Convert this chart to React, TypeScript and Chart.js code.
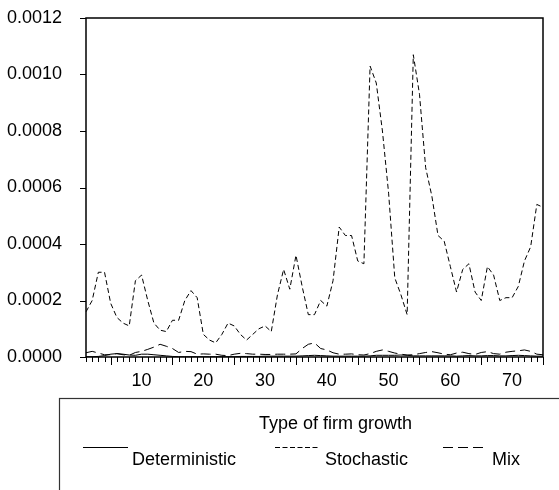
import React, { useEffect, useRef } from 'react';
import { Chart, registerables } from 'chart.js';

Chart.register(...registerables);

const periods = [
  1, 2, 3, 4, 5, 6, 7, 8, 9, 10, 11, 12, 13, 14, 15, 16, 17, 18, 19, 20,
  21, 22, 23, 24, 25, 26, 27, 28, 29, 30, 31, 32, 33, 34, 35, 36, 37, 38, 39, 40,
  41, 42, 43, 44, 45, 46, 47, 48, 49, 50, 51, 52, 53, 54, 55, 56, 57, 58, 59, 60,
  61, 62, 63, 64, 65, 66, 67, 68, 69, 70, 71, 72, 73, 74, 75,
];

const deterministic = [
  0.000001, 0.000001, 0.000002, 0.000005, 0.00001, 0.000012, 0.00001, 0.000007, 0.000006, 0.00001,
  0.00001, 0.000008, 0.000006, 0.000004, 0.000002, 0.000001, 0.000001, 0.000001, 0.000001, 0.000001,
  0.000001, 0.000001, 0.000001, 0.000001, 0.000001, 0.000002, 0.000002, 0.000002, 0.000002, 0.000003,
  0.000003, 0.000003, 0.000003, 0.000003, 0.000003, 0.000004, 0.000005, 0.000006, 0.000005, 0.000004,
  0.000003, 0.000003, 0.000003, 0.000003, 0.000003, 0.000003, 0.000004, 0.000006, 0.000006, 0.000006,
  0.000006, 0.000007, 0.000006, 0.000004, 0.000004, 0.000004, 0.000004, 0.000004, 0.000004, 0.000004,
  0.000003, 0.000004, 0.000005, 0.000004, 0.000004, 0.000005, 0.000005, 0.000004, 0.000004, 0.000005,
  0.000006, 0.000005, 0.000004, 0.000003, 0.000003,
];

const stochastic = [
  0.00016, 0.0002, 0.0003, 0.0003, 0.00019, 0.00014, 0.00012, 0.00011, 0.00027, 0.00029,
  0.0002, 0.00012, 0.000095, 0.00009, 0.00013, 0.00013, 0.0002, 0.000235, 0.00021, 0.00008,
  0.00006, 0.00005, 0.00008, 0.00012, 0.00011, 0.00008, 0.00006, 0.00008, 0.0001, 0.00011,
  0.00009, 0.00022, 0.00031, 0.00024, 0.00036, 0.00025, 0.00015, 0.00015, 0.0002, 0.00018,
  0.00027, 0.00046, 0.00043, 0.00043, 0.00034, 0.00033, 0.00103, 0.00097, 0.0008, 0.00058,
  0.00028, 0.00022, 0.00015, 0.00107, 0.00093, 0.00067, 0.00057, 0.00043, 0.00041, 0.00032,
  0.00023, 0.00031, 0.00033, 0.00023, 0.0002, 0.00032, 0.00029, 0.0002, 0.00021, 0.00021,
  0.00025, 0.00034, 0.00039, 0.00054, 0.00053,
];

const mix = [
  0.000015, 0.00002, 0.000014, 0.000008, 0.000008, 0.000012, 0.000008, 0.000006, 0.000016, 0.00002,
  0.000027, 0.000035, 0.000045, 0.000038, 0.00003, 0.000016, 0.00002, 0.000019, 0.00001, 0.000011,
  0.00001, 0.00001, 0.000006, 0.000005, 0.00001, 0.000013, 0.000012, 0.00001, 0.00001, 0.000009,
  0.000009, 0.00001, 0.00001, 0.00001, 0.000011, 0.00003, 0.000045, 0.00005, 0.00003, 0.000025,
  0.000015, 0.00001, 0.00001, 0.000011, 0.000008, 0.000007, 0.000012, 0.00002, 0.000025, 0.00002,
  0.000014, 0.00001, 0.000007, 0.000008, 0.000012, 0.000016, 0.000019, 0.000015, 0.00001, 0.000008,
  0.000014, 0.000017, 0.000012, 0.000009, 0.000016, 0.000019, 0.000012, 0.00001, 0.000017, 0.00002,
  0.000022, 0.000025, 0.00002, 0.00001, 0.000008,
];

const seriesNames = ['Deterministic', 'Stochastic', 'Mix'];
const legendTitle = 'Type of firm growth';

const FONT = '"Liberation Sans", Arial, Helvetica, sans-serif';

const decorPlugin = {
  id: 'decor',
  afterDraw(chart: any) {
    const { ctx, chartArea: a, scales } = chart;
    ctx.save();
    // frame
    ctx.strokeStyle = '#000';
    ctx.lineWidth = 1.5;
    ctx.setLineDash([]);
    ctx.strokeRect(a.left, a.top, a.right - a.left, a.bottom - a.top);
    // y ticks
    ctx.lineWidth = 1;
    const ys = scales.y;
    ys.ticks.forEach((t: any) => {
      const py = Math.round(ys.getPixelForValue(t.value)) + 0.5;
      ctx.beginPath();
      ctx.moveTo(a.left - 6, py);
      ctx.lineTo(a.left, py);
      ctx.stroke();
    });
    // x ticks
    const xs = scales.x;
    periods.forEach((p, i) => {
      const px = Math.round(xs.getPixelForValue(i)) + 0.5;
      const len = p % 5 === 0 && p % 10 !== 0 ? 8 : 5;
      ctx.beginPath();
      ctx.moveTo(px, a.bottom);
      ctx.lineTo(px, a.bottom + len);
      ctx.stroke();
    });
    // legend box
    ctx.strokeStyle = '#333';
    ctx.lineWidth = 1.2;
    ctx.strokeRect(59.5, 398.5, 620, 200);
    ctx.fillStyle = '#000';
    ctx.font = `18px ${FONT}`;
    ctx.textAlign = 'center';
    ctx.textBaseline = 'alphabetic';
    ctx.fillText(legendTitle, 335.5, 428.5);
    const items = [
      { x0: 83, x1: 128, tx: 132, dash: [] as number[] },
      { x0: 275, x1: 320, tx: 325, dash: [5, 2.5] },
      { x0: 443, x1: 488, tx: 492, dash: [10, 5] },
    ];
    ctx.textAlign = 'left';
    ctx.strokeStyle = '#000';
    ctx.lineWidth = 1;
    items.forEach((it, i) => {
      ctx.setLineDash(it.dash);
      ctx.beginPath();
      ctx.moveTo(it.x0, 447.5);
      ctx.lineTo(it.x1, 447.5);
      ctx.stroke();
      ctx.fillText(seriesNames[i], it.tx, 465);
    });
    ctx.restore();
  },
};

export default function App() {
  const ref = useRef<HTMLCanvasElement | null>(null);
  useEffect(() => {
    if (!ref.current) return;
    Chart.defaults.font.family = FONT;
    const chart = new Chart(ref.current, {
      type: 'line',
      data: {
        labels: periods.map(String),
        datasets: [
          { label: seriesNames[0], data: deterministic, borderColor: '#000', borderWidth: 1, pointRadius: 0, tension: 0, borderDash: [] },
          { label: seriesNames[1], data: stochastic, borderColor: '#000', borderWidth: 1, pointRadius: 0, tension: 0, borderDash: [5, 3] },
          { label: seriesNames[2], data: mix, borderColor: '#000', borderWidth: 1, pointRadius: 0, tension: 0, borderDash: [10, 5] },
        ],
      },
      options: {
        animation: false,
        responsive: false,
        devicePixelRatio: 1,
        layout: { padding: { top: 18, right: 16, left: 7, bottom: 0 } },
        plugins: { legend: { display: false }, tooltip: { enabled: false }, title: { display: false } },
        scales: {
          x: {
            type: 'category',
            offset: false,
            grid: { display: false, drawTicks: false },
            border: { display: false },
            ticks: {
              autoSkip: false,
              maxRotation: 0,
              minRotation: 0,
              padding: 13,
              color: '#000',
              font: { size: 18, family: FONT },
              callback: (_v: any, idx: number) => (periods[idx] % 10 === 0 ? String(periods[idx]) : ''),
            },
            afterFit: (s: any) => { s.height = 133; },
          },
          y: {
            min: 0,
            max: 0.0012,
            grid: { display: false, drawTicks: false },
            border: { display: false },
            ticks: {
              stepSize: 0.0002,
              padding: 4,
              crossAlign: 'far',
              color: '#000',
              font: { size: 18, family: FONT },
              callback: (v: any) => Number(v).toFixed(4),
            },
            afterFit: (s: any) => { s.width = 79; },
          },
        },
      },
      plugins: [decorPlugin],
    });
    return () => chart.destroy();
  }, []);
  return (
    <div style={{ position: 'absolute', left: 0, top: 0, width: 559, height: 490, background: '#fff' }}>
      <canvas ref={ref} width={559} height={490} />
    </div>
  );
}
